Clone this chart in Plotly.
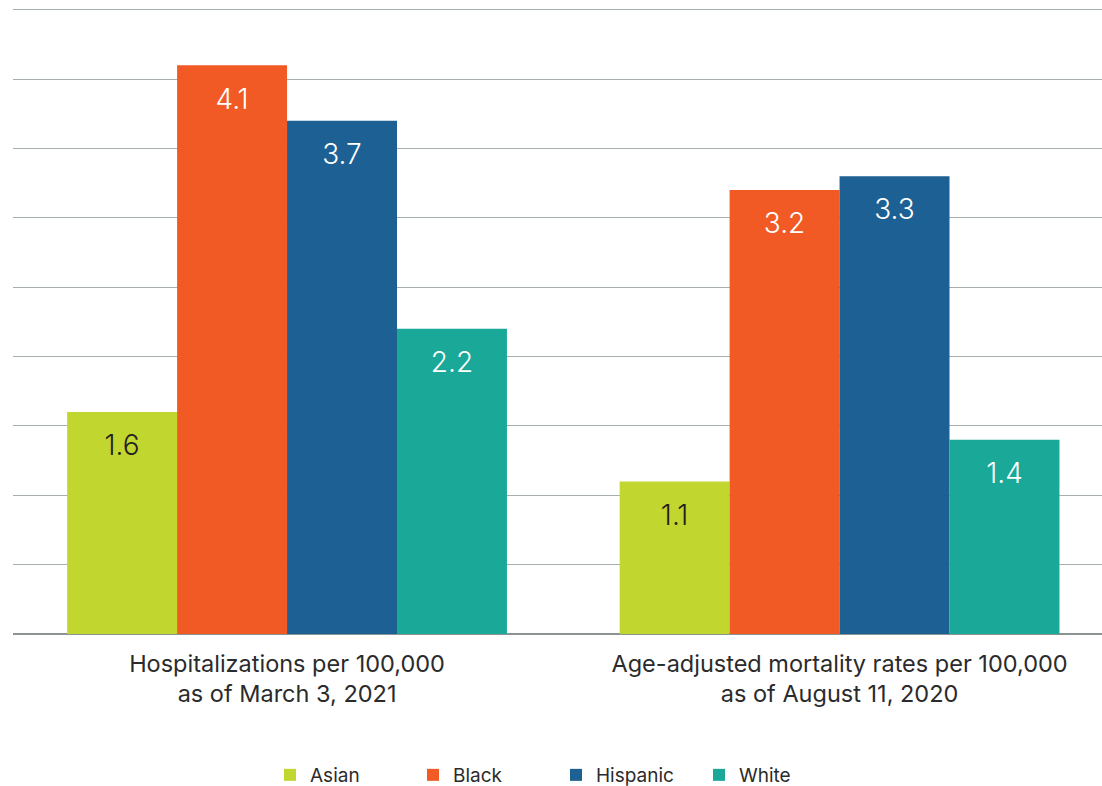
import plotly.graph_objects as go

# Two measures, four groups each
categories = [
    "Hospitalizations per 100,000<br>as of March 3, 2021",
    "Age-adjusted mortality rates per 100,000<br>as of August 11, 2020",
]
groups = ["Asian", "Black", "Hispanic", "White"]
asian = [1.6, 1.1]
black = [4.1, 3.2]
hispanic = [3.7, 3.3]
white = [2.2, 1.4]

series = [asian, black, hispanic, white]
colors = ["#c1d62f", "#f15a24", "#1d6093", "#1aa898"]
label_colors = ["#231f20", "#ffffff", "#ffffff", "#ffffff"]

GAP = 0.204
FONT = "Inter"

fig = go.Figure()

for name, vals, col in zip(groups, series, colors):
    fig.add_trace(go.Bar(
        name=name, x=categories, y=vals,
        marker=dict(color=col, line=dict(width=0)),
        hoverinfo="skip",
    ))

# Value labels sit a little below each bar top
for name, vals, tcol in zip(groups, series, label_colors):
    fig.add_trace(go.Scatter(
        x=categories, y=vals, mode="markers+text",
        text=[f"{v:.1f}" for v in vals],
        textposition="bottom center",
        textfont=dict(family=FONT, size=28, color=tcol, weight=300),
        marker=dict(size=34, opacity=0),
        showlegend=False, hoverinfo="skip",
    ))

fig.update_layout(
    width=1102, height=786,
    margin=dict(l=13, r=0, t=7, b=152),
    paper_bgcolor="white", plot_bgcolor="white",
    barmode="group", bargap=GAP, bargroupgap=0,
    scattermode="group", scattergap=GAP,
    font=dict(family=FONT, color="#2b2b2b"),
    showlegend=True,
    legend=dict(
        orientation="h", xref="container", yref="container",
        x=0.245, xanchor="left", y=0.014, yanchor="middle",
        font=dict(family=FONT, size=19, color="#2b2b2b"),
        entrywidth=98, itemwidth=30,
    ),
    xaxis=dict(
        range=[-0.496, 1.475], showgrid=False, showline=False,
        tickfont=dict(family=FONT, size=23.5, color="#2b2b2b"),
        ticks="", ticklabelstandoff=13,
    ),
    yaxis=dict(
        range=[0, 4.52], dtick=0.5, showticklabels=False,
        showgrid=True, gridcolor="#a7afad", gridwidth=1,
        zeroline=True, zerolinecolor="#8a9493", zerolinewidth=2,
        showline=False, ticks="",
    ),
)

fig.write_html("out.html")
